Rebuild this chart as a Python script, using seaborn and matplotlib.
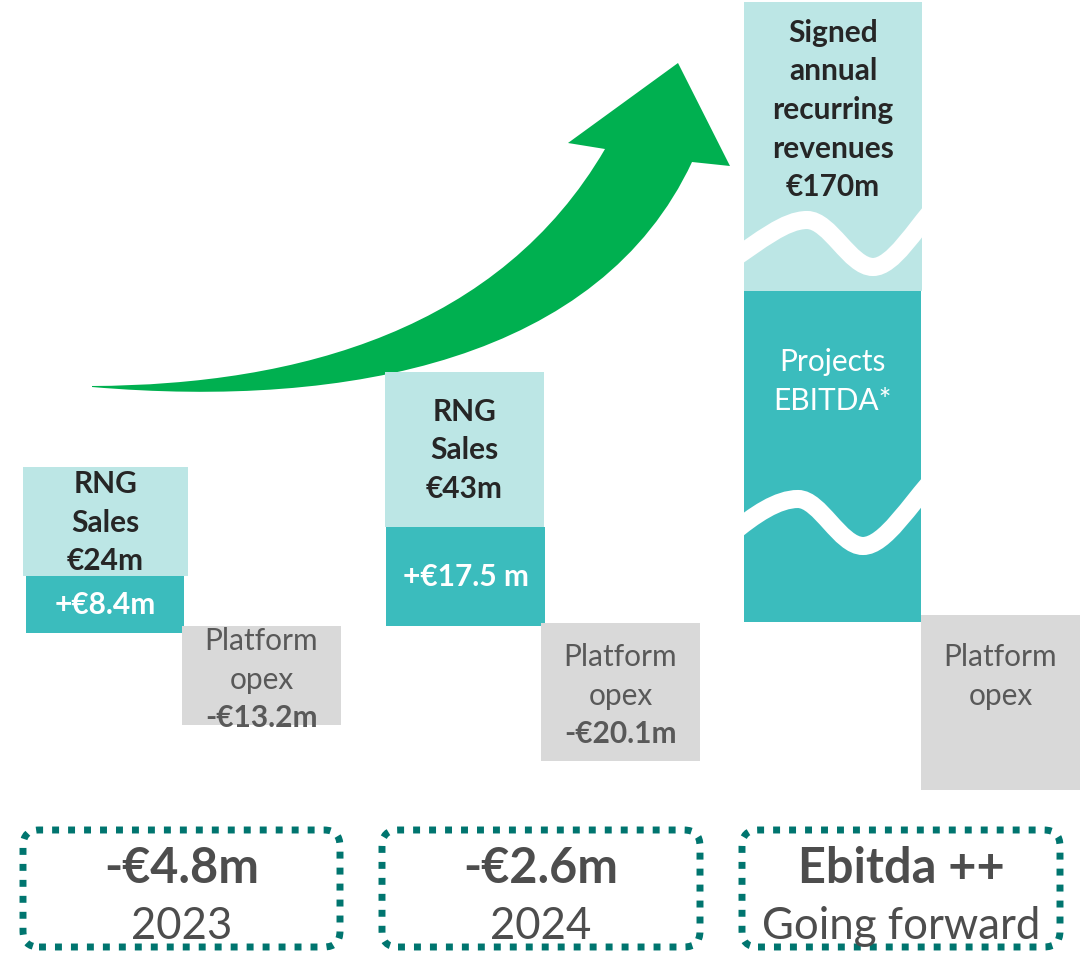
import matplotlib.pyplot as plt
import seaborn as sns
from matplotlib.path import Path
from matplotlib.patches import PathPatch, FancyBboxPatch

# data
years = ['2023', '2024', 'Going forward']
net_result = ['-€4.8m', '-€2.6m', 'Ebitda ++']
rng_labels = [['RNG', 'Sales', '€24m'],
              ['RNG', 'Sales', '€43m'],
              ['Signed', 'annual', 'recurring', 'revenues', '€170m']]
ebitda_labels = [['+€8.4m'], ['+€17.5 m'], ['Projects', 'EBITDA*']]
opex_labels = [['Platform', 'opex', '-€13.2m'],
               ['Platform', 'opex', '-€20.1m'],
               ['Platform', 'opex']]

# block heights in chart units (as drawn, not to scale with the euro values)
rng_height = [109, 155, 289]
ebitda_height = [57, 99, 331]
opex_height = [99, 138, 175]

# layout (chart units = pixels, y pointing up)
W, H = 1089, 954
base = [320, 327, 331]            # bottom of the teal block
opex_top = [327, 330, 338]
rev_x = [105.5, 464.5, 833]
rev_w = [165, 159, 178]
ebi_x = [105, 465.5, 832.5]
ebi_w = [158, 159, 177]
opex_x = [261.5, 620.5, 1000.5]
opex_w = [159, 159, 159]
box_x = [23, 382, 742]
box_w = [317, 318, 318]

LIGHT = '#BCE6E5'
TEAL = '#3BBCBD'
GREY = '#D9D9D9'
GREEN = '#00B050'
DOTS = '#00756F'

sns.set_theme(style='white')
plt.rcParams['font.family'] = ['Lato', 'DejaVu Sans']

fig = plt.figure(figsize=(W / 100, H / 100), dpi=100)
ax = fig.add_axes([0, 0, 1, 1])
ax.set_xlim(0, W)
ax.set_ylim(0, H)
ax.set_axis_off()

# growth arrow (pixel outline, converted to y-up)
def up(p):
    return (p[0], H - p[1])

arrow_pts = [(92, 387),
             (300, 386), (500, 330), (605, 150),
             (568, 144), (678, 64), (730, 167), (692, 163),
             (600, 360), (350, 410), (92, 388),
             (92, 387)]
arrow_codes = [Path.MOVETO,
               Path.CURVE4, Path.CURVE4, Path.CURVE4,
               Path.LINETO, Path.LINETO, Path.LINETO, Path.LINETO,
               Path.CURVE4, Path.CURVE4, Path.CURVE4,
               Path.CLOSEPOLY]
ax.add_patch(PathPatch(Path([up(p) for p in arrow_pts], arrow_codes),
                       facecolor=GREEN, edgecolor='none', zorder=1))

# waterfall blocks
ebi_bars = ax.bar(ebi_x, ebitda_height, width=ebi_w, bottom=base,
                  color=TEAL, linewidth=0, zorder=2)
rev_bottom = [b + h for b, h in zip(base, ebitda_height)]
rev_bars = ax.bar(rev_x, rng_height, width=rev_w, bottom=rev_bottom,
                  color=LIGHT, linewidth=0, zorder=2)
opex_bottom = [t - h for t, h in zip(opex_top, opex_height)]
ax.bar(opex_x, opex_height, width=opex_w, bottom=opex_bottom,
       color=GREY, linewidth=0, zorder=2)

# white "broken axis" waves on the forward column
def wave(pts, clip):
    codes = [Path.MOVETO] + [Path.CURVE4] * (len(pts) - 1)
    patch = PathPatch(Path([up(p) for p in pts], codes), facecolor='none',
                      edgecolor='white', lw=13, capstyle='butt', zorder=3)
    ax.add_patch(patch)
    patch.set_clip_path(clip)

wave([(730, 262), (760, 242), (785, 221), (807, 221),
      (830, 221), (850, 268), (873, 268),
      (893, 268), (915, 230), (935, 208)], rev_bars[2])
wave([(730, 536), (755, 515), (778, 500), (798, 500),
      (820, 500), (840, 547), (863, 547),
      (885, 547), (910, 505), (935, 478)], ebi_bars[2])

# block texts
LS = 38.5
FS = 21.5

def lines(x, yc, texts, weights, color):
    n = len(texts)
    for i, (t, w) in enumerate(zip(texts, weights)):
        y = yc + (n - 1) / 2 * LS - i * LS
        ax.text(x, y, t, ha='center', va='center', fontsize=FS,
                fontweight=w, color=color, zorder=4)

for i in range(3):
    # revenue block
    top = rev_bottom[i] + rng_height[i]
    if i < 2:
        yc = rev_bottom[i] + rng_height[i] / 2
    else:
        yc = top - 30 - (len(rng_labels[i]) - 1) / 2 * LS
    lines(rev_x[i], yc, rng_labels[i], ['bold'] * len(rng_labels[i]), '#262626')

    # teal block
    if i < 2:
        lines(ebi_x[i], base[i] + ebitda_height[i] / 2, ebitda_labels[i],
              ['bold'], 'white')
    else:
        lines(ebi_x[i], H - 381.5, ebitda_labels[i], ['normal', 'normal'], 'white')

    # platform opex block
    if i < 2:
        lines(opex_x[i], opex_top[i] - opex_height[i] / 2 - 3, opex_labels[i],
              ['normal', 'normal', 'bold'], '#595959')
    else:
        lines(opex_x[i], H - 676.5, opex_labels[i], ['normal', 'normal'], '#595959')

# dotted result boxes at the bottom
for i in range(3):
    box = FancyBboxPatch((box_x[i], 6), box_w[i], 117,
                         boxstyle='round,pad=0,rounding_size=16',
                         fill=False, edgecolor=DOTS, linewidth=5,
                         linestyle=(0, (1.0, 1.3)), zorder=2)
    box.set_capstyle('butt')
    ax.add_patch(box)
    xc = box_x[i] + box_w[i] / 2
    ax.text(xc, H - 869, net_result[i], ha='center', va='center',
            fontsize=35, fontweight='bold', color='#4D4D4D')
    ax.text(xc, H - 927, years[i], ha='center', va='center',
            fontsize=31.5, color='#4D4D4D')

fig.savefig('out.png', dpi=100)
plt.close(fig)
